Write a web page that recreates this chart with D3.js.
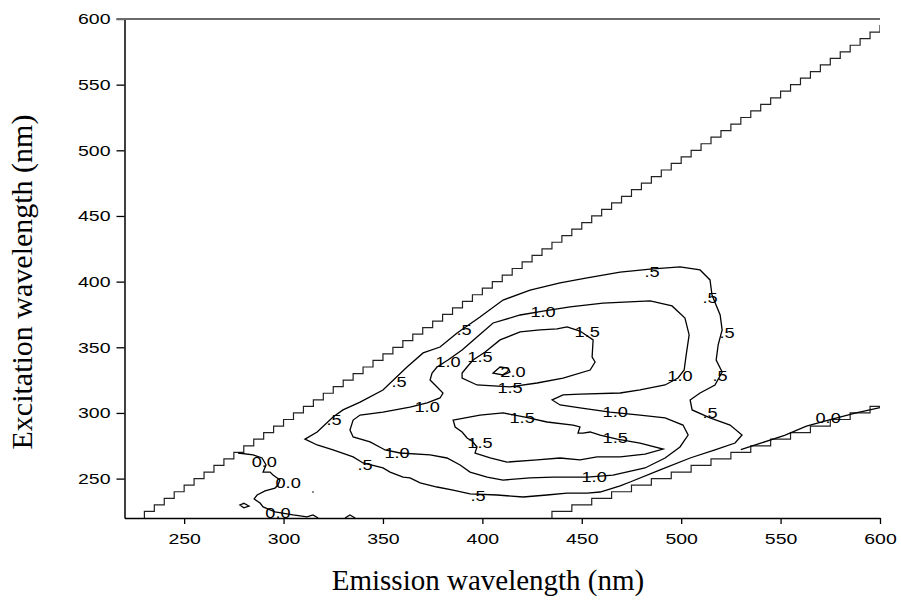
<!DOCTYPE html>
<html>
<head>
<meta charset="utf-8">
<script src="https://cdn.jsdelivr.net/npm/d3@7"></script>
<style>
body { margin: 0; background: #fff; }
.tick text { font-family: "Liberation Sans", Arial, sans-serif; font-size: 15px; fill: #000; }
.clabel { font-family: "Liberation Sans", Arial, sans-serif; font-size: 14px; fill: #000; }
.axis-title { font-family: "Liberation Serif", "Times New Roman", serif; font-size: 29px; fill: #000; }
</style>
</head>
<body>
<div id="chart"></div>
<script>
// Axis ticks (nm)
const emTicks = [250, 300, 350, 400, 450, 500, 550, 600];
const exTicks = [250, 300, 350, 400, 450, 500, 550, 600];

// Contour lines, [emission, excitation] in nm
const level00Left = [[277.1,269.5],[284.7,268.0],[289.2,265.7],[291.2,260.4],[289.7,255.0],[293.2,255.0],[294.7,252.7],[298.2,248.9],[297.2,245.1],[295.7,242.8],[290.7,240.6],[286.7,237.5],[285.2,234.5],[288.2,231.4],[289.7,228.4],[295.7,224.6],[304.8,222.3],[311.8,220.8],[314.8,222.3],[317.4,220.0]];
const level00Loop = [[278.0,229.9],[280.0,231.2],[282.6,229.1],[280.0,227.8]];
const level00Bump = [[330.9,220.0],[333.4,222.3],[336.0,220.0]];
const level00Dot = [[314.5,239.8],[315.1,239.8]];
const level00Right = [[530,272],[540,277],[552,283],[563,290],[575,295],[588,300],[600,304]];

const level05 = [[310.8,280.1],[316.9,285.5],[324.9,296.9],[329.9,302.3],[338.5,308.3],[350.0,317.5],[362.1,335.0],[370.2,345.7],[378.7,350.2],[387.3,360.9],[398.8,373.1],[410.4,386.0],[424.0,393.6],[439.1,399.0],[452.7,402.8],[469.3,407.3],[484.4,409.6],[499.4,411.2],[509.5,408.9],[514.5,401.3],[515.5,389.8],[519.6,374.6],[520.6,363.2],[518.6,351.8],[517.6,340.3],[520.6,331.2],[517.0,321.3],[509.5,315.2],[504.5,309.9],[505.5,302.3],[514.5,296.2],[524.6,290.8],[530.6,283.2],[527.1,277.1],[517.0,271.8],[504.5,265.7],[489.4,256.6],[474.3,247.4],[469.3,244.4],[459.2,239.8],[452.7,239.0],[442.6,239.0],[432.5,237.5],[420.5,236.0],[407.4,237.5],[393.8,238.3],[385.3,241.3],[377.2,243.6],[368.7,246.7],[363.6,250.5],[360.1,251.2],[353.6,255.0],[350.0,258.1],[340.0,261.9],[335.0,266.5],[324.9,271.8],[316.9,275.6]];

const level10 = [[372.2,307.6],[378.7,311.4],[380.2,315.2],[377.2,319.8],[373.7,325.1],[374.7,330.4],[377.2,335.0],[382.7,340.3],[389.8,347.9],[397.3,357.8],[405.4,368.5],[419.0,374.6],[430.5,377.6],[444.1,380.7],[460.7,383.7],[484.4,385.3],[495.4,381.5],[501.9,372.3],[504.0,359.4],[502.5,344.1],[501.5,332.7],[498.4,326.6],[491.9,321.3],[479.3,317.5],[469.3,315.2],[449.1,314.4],[440.6,313.7],[435.1,309.9],[439.1,306.1],[449.1,303.8],[464.2,300.7],[479.3,298.4],[491.9,296.2],[500.9,290.8],[503.5,283.2],[499.4,274.1],[491.9,265.7],[481.8,258.1],[465.7,252.7],[452.7,251.2],[435.6,251.2],[424.0,250.5],[410.4,248.9],[402.4,251.2],[393.8,255.0],[388.8,260.4],[382.2,265.7],[373.7,268.0],[358.6,269.5],[351.1,271.8],[343.5,277.9],[335.0,281.7],[333.4,287.0],[335.0,294.6],[338.5,298.4],[350.0,300.7],[363.6,304.5]];

const level15Upper = [[395.3,340.3],[401.4,346.4],[408.9,355.6],[419.0,361.7],[429.0,363.2],[437.6,364.0],[442.6,365.5],[449.1,362.4],[455.7,355.6],[455.2,342.6],[456.7,338.8],[454.2,332.7],[440.6,326.6],[427.5,322.8],[413.9,319.8],[397.3,321.3],[389.8,326.6],[389.8,330.4],[392.3,335.0]];

const level15Lower = [[385.3,294.6],[398.8,298.4],[410.4,300.0],[421.5,296.9],[432.5,293.1],[445.6,290.8],[449.1,289.3],[448.1,284.7],[450.6,284.7],[454.2,285.5],[459.2,283.2],[467.8,280.1],[479.3,277.1],[490.9,272.5],[481.8,268.7],[469.3,266.5],[457.7,266.5],[449.1,264.2],[439.1,265.7],[427.5,264.2],[412.4,262.6],[403.9,265.7],[396.3,269.5],[397.3,274.1],[394.8,278.6],[392.3,280.9],[389.8,285.5],[386.3,289.3]];

const level20 = [[405.4,330.4],[408.9,335.0],[412.9,334.2],[413.9,331.2],[410.4,328.9]];

// Contour labels: [text, emission, excitation]
const contourLabels = [
  [".5", 485.4, 407.3], ["1.0", 430.5, 376.9], [".5", 514.5, 387.5],
  ["1.5", 452.7, 361.7], [".5", 390.8, 363.2], ["1.0", 382.7, 338.8],
  ["1.5", 398.8, 342.6], ["2.0", 415.4, 331.2], [".5", 523.1, 360.9],
  [".5", 519.6, 328.1], ["1.0", 499.4, 328.1], [".5", 358.1, 323.6],
  ["1.5", 413.9, 319.0], ["1.0", 372.2, 304.5], ["1.5", 420.0, 296.2],
  ["1.0", 466.8, 300.7], [".5", 514.5, 300.0], [".5", 325.4, 294.6],
  ["0.0", 573.9, 296.0], ["1.5", 398.8, 277.1], ["1.5", 466.8, 280.9],
  ["0.0", 290.3, 262.6], [".5", 341.0, 260.4], ["1.0", 357.1, 269.5],
  ["0.0", 302.3, 246.7], ["1.0", 456.2, 251.2], [".5", 397.8, 236.8],
  ["0.0", 297.2, 223.8]
];

// Scan grid step of the instrument (nm) used for the scatter masks
const scanStep = 5;

const margin = {top: 19, right: 21, bottom: 94, left: 124.5};
const width = 901 - margin.left - margin.right;
const height = 612 - margin.top - margin.bottom;

const svg = d3.select("#chart")
    .append("svg")
    .attr("width", 901)
    .attr("height", 612);

const g = svg.append("g")
    .attr("transform", `translate(${margin.left},${margin.top})`);

const x = d3.scaleLinear().domain([220, 600]).range([0, width]);
const y = d3.scaleLinear().domain([220, 600]).range([height, 0]);

g.append("clipPath").attr("id", "plot-clip")
    .append("rect").attr("width", width).attr("height", height);

const plot = g.append("g").attr("clip-path", "url(#plot-clip)");

const line = d3.line().x(d => x(d[0])).y(d => y(d[1]));
const loop = d3.line().x(d => x(d[0])).y(d => y(d[1])).curve(d3.curveLinearClosed);

// Rayleigh scatter staircases (first and second order)
const first = [];
for (let e = 230; e <= 600; e += scanStep) {
    first.push([e, e - 10], [e, e - 5], [e + 5, e - 5]);
}
const second = [];
for (let e = 220; 2 * e - 5 <= 600; e += scanStep) {
    second.push([2 * e - 5, e], [2 * e - 5, e + 5], [2 * e + 5, e + 5]);
}
[first, second].forEach(s => {
    plot.append("path")
        .attr("d", line(s))
        .attr("fill", "none")
        .attr("stroke", "#222")
        .attr("stroke-width", 1.2);
});

// Contour lines
[level00Left, level00Bump, level00Dot, level00Right].forEach(c => {
    plot.append("path").attr("d", line(c))
        .attr("fill", "none").attr("stroke", "#000").attr("stroke-width", 1.3);
});
[level00Loop, level05, level10, level15Upper, level15Lower, level20].forEach(c => {
    plot.append("path").attr("d", loop(c))
        .attr("fill", "none").attr("stroke", "#000").attr("stroke-width", 1.3);
});

// Contour labels
contourLabels.forEach(l => {
    plot.append("text")
        .attr("class", "clabel")
        .attr("text-anchor", "middle")
        .attr("dy", "0.36em")
        .attr("transform", `translate(${x(l[1])},${y(l[2])}) scale(1.3,1)`)
        .text(l[0]);
});

// Axes
const xAxis = g.append("g")
    .attr("transform", `translate(0,${height})`)
    .call(d3.axisBottom(x).tickValues(emTicks).tickSize(6).tickSizeOuter(0).tickPadding(9));
xAxis.selectAll(".tick text")
    .attr("transform", "scale(1.3,1)");

const yAxis = g.append("g")
    .call(d3.axisLeft(y).tickValues(exTicks).tickSize(8).tickSizeOuter(0).tickPadding(6));
yAxis.selectAll(".tick text")
    .attr("x", 0)
    .attr("transform", "translate(-14,0) scale(1.3,1)");

g.selectAll(".domain").attr("stroke", "#000").attr("stroke-width", 1.5);
g.selectAll(".tick line").attr("stroke", "#000").attr("stroke-width", 1.3);

// Top frame line
g.append("line")
    .attr("x1", -8).attr("x2", width)
    .attr("y1", y(600)).attr("y2", y(600))
    .attr("stroke", "#6b6b6b")
    .attr("stroke-width", 2);

// Axis titles
svg.append("text")
    .attr("class", "axis-title")
    .attr("text-anchor", "middle")
    .attr("x", 488)
    .attr("y", 590)
    .text("Emission wavelength (nm)");

svg.append("text")
    .attr("class", "axis-title")
    .attr("text-anchor", "middle")
    .attr("transform", "translate(32,282) rotate(-90)")
    .style("font-size", "30px")
    .text("Excitation wavelength (nm)");
</script>
</body>
</html>
